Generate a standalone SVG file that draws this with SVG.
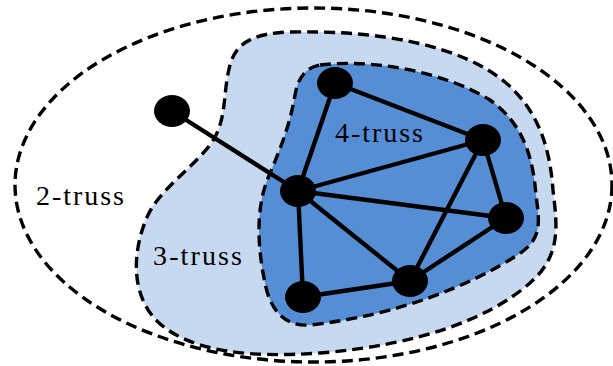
<svg xmlns="http://www.w3.org/2000/svg" width="613" height="366" viewBox="0 0 613 366">
<style>
.dash{stroke:#000;stroke-width:3.4;stroke-dasharray:11 6;}
.edge{stroke:#000;stroke-width:4.4;fill:none;}
.node{fill:#000;}
.lbl{font-family:"Liberation Serif","DejaVu Serif",serif;font-size:28px;fill:#000;}
</style>
<g id="region-2truss">
<ellipse class="dash" cx="313.5" cy="185" rx="298.5" ry="177" fill="none"/>
<text class="lbl" x="36" y="205" textLength="88" lengthAdjust="spacing">2-truss</text>
</g>
<g id="region-3truss">
<path class="dash" fill="#C6D9F0" d="M 290,32 C 380,30 460,45 505,82 C 540,112 550,150 553,190 C 557,225 562,255 530,283 C 490,318 420,345 320,353 C 250,358 190,352 158,322 C 130,295 132,250 148,215 C 160,190 190,170 210,145 C 228,120 222,95 230,65 C 236,42 255,33 290,32 Z"/>
<text class="lbl" x="153" y="265" textLength="89" lengthAdjust="spacing">3-truss</text>
</g>
<g id="region-4truss">
<path class="dash" fill="#558ED5" d="M 320,65 C 380,58 450,75 490,100 C 525,125 533,160 536,195 C 540,225 542,240 516,256 C 470,285 400,315 310,325 C 285,327 270,310 265,283 C 258,250 255,210 268,178 C 280,150 290,125 295,95 C 298,78 305,68 320,65 Z"/>
<text class="lbl" x="335" y="142" textLength="88" lengthAdjust="spacing">4-truss</text>
</g>
<g id="connectors">
<line class="edge" x1="172" y1="111" x2="298" y2="191"/>
<line class="edge" x1="298" y1="191" x2="335" y2="83"/>
<line class="edge" x1="335" y1="83" x2="483" y2="140"/>
<line class="edge" x1="298" y1="191" x2="483" y2="140"/>
<line class="edge" x1="298" y1="191" x2="506" y2="218"/>
<line class="edge" x1="298" y1="191" x2="410" y2="281"/>
<line class="edge" x1="298" y1="191" x2="303" y2="297"/>
<line class="edge" x1="303" y1="297" x2="410" y2="281"/>
<line class="edge" x1="410" y1="281" x2="483" y2="140"/>
<line class="edge" x1="410" y1="281" x2="506" y2="218"/>
<line class="edge" x1="483" y1="140" x2="506" y2="218"/>
</g>
<g id="n1"><ellipse class="node" cx="172" cy="111" rx="18" ry="16"/></g>
<g id="n2"><ellipse class="node" cx="335" cy="83" rx="18" ry="16"/></g>
<g id="n3"><ellipse class="node" cx="483" cy="140" rx="18" ry="16"/></g>
<g id="n4"><ellipse class="node" cx="298" cy="191" rx="18" ry="16"/></g>
<g id="n5"><ellipse class="node" cx="506" cy="218" rx="18" ry="16"/></g>
<g id="n6"><ellipse class="node" cx="410" cy="281" rx="18" ry="16"/></g>
<g id="n7"><ellipse class="node" cx="303" cy="297" rx="18" ry="16"/></g>
</svg>
